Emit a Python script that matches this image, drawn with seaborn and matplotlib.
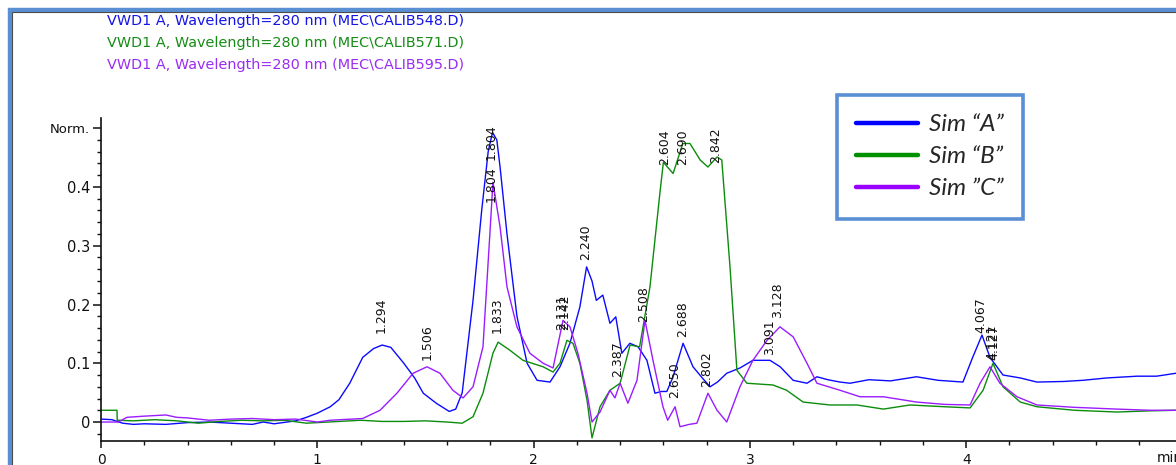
import numpy as np
import pandas as pd
import matplotlib
matplotlib.use("Agg")
import matplotlib.pyplot as plt
import seaborn as sns
from matplotlib.patches import Rectangle
from matplotlib.lines import Line2D
from matplotlib.ticker import MultipleLocator

# ---------------- data ----------------
series_names = ["Sim \u201cA\u201d", "Sim \u201cB\u201d", "Sim \u201dC\u201d"]
header_texts = [
    "VWD1 A, Wavelength=280 nm (MEC\\CALIB548.D)",
    "VWD1 A, Wavelength=280 nm (MEC\\CALIB571.D)",
    "VWD1 A, Wavelength=280 nm (MEC\\CALIB595.D)",
]

time_a = [0, 0.05, 0.1, 0.15, 0.2, 0.3, 0.4, 0.5, 0.6, 0.7,
          0.75, 0.8, 0.9, 0.95, 1.0, 1.06, 1.1, 1.15, 1.21, 1.26,
          1.30, 1.34, 1.40, 1.45, 1.49, 1.55, 1.61, 1.64, 1.67, 1.72,
          1.76, 1.79, 1.81, 1.83, 1.845, 1.877, 1.923, 1.97, 2.016, 2.076,
          2.122, 2.168, 2.214, 2.245, 2.27, 2.29, 2.32, 2.353, 2.38, 2.408,
          2.445, 2.483, 2.524, 2.561, 2.59, 2.616, 2.645, 2.691, 2.737, 2.78,
          2.816, 2.85, 2.893, 2.954, 3.014, 3.093, 3.14, 3.2, 3.264, 3.31,
          3.36, 3.417, 3.463, 3.55, 3.65, 3.77, 3.87, 3.985, 4.03, 4.073,
          4.11, 4.17, 4.25, 4.327, 4.45, 4.54, 4.65, 4.79, 4.88, 4.97]
signal_a = [0.005, 0.004, -0.002, -0.004, -0.003, -0.004, -0.001, 0.0, -0.002, -0.004,
            0.0, -0.003, 0.002, 0.008, 0.015, 0.026, 0.038, 0.066, 0.11, 0.125,
            0.131, 0.127, 0.10, 0.075, 0.049, 0.032, 0.018, 0.022, 0.05, 0.207,
            0.36, 0.46, 0.493, 0.48, 0.434, 0.32, 0.18, 0.10, 0.071, 0.068,
            0.094, 0.134, 0.196, 0.264, 0.24, 0.207, 0.216, 0.168, 0.179, 0.117,
            0.134, 0.128, 0.105, 0.049, 0.052, 0.052, 0.077, 0.134, 0.094, 0.075,
            0.06, 0.068, 0.083, 0.092, 0.105, 0.105, 0.094, 0.071, 0.066, 0.077,
            0.072, 0.068, 0.066, 0.072, 0.07, 0.077, 0.071, 0.068, 0.11, 0.148,
            0.11, 0.08, 0.075, 0.068, 0.069, 0.071, 0.075, 0.078, 0.078, 0.083]

time_b = [0, 0.074, 0.075, 0.15, 0.25, 0.35, 0.45, 0.55, 0.65, 0.75,
          0.85, 0.95, 1.05, 1.2, 1.3, 1.4, 1.5, 1.6, 1.67, 1.72,
          1.766, 1.812, 1.836, 1.891, 1.951, 2.044, 2.09, 2.122, 2.154, 2.182,
          2.214, 2.247, 2.27, 2.307, 2.353, 2.4, 2.446, 2.49, 2.538, 2.584,
          2.6, 2.645, 2.69, 2.723, 2.77, 2.806, 2.848, 2.87, 2.908, 2.94,
          2.986, 3.107, 3.17, 3.246, 3.37, 3.495, 3.617, 3.74, 3.9, 4.018,
          4.078, 4.124, 4.17, 4.25, 4.327, 4.5, 4.697, 4.85, 4.97]
signal_b = [0.02, 0.02, 0.003, 0.002, 0.004, 0.002, -0.002, 0.001, 0.003, 0.002,
            0.003, -0.002, 0.0, 0.003, 0.001, 0.001, 0.002, 0.0, -0.002, 0.009,
            0.049, 0.117, 0.136, 0.122, 0.105, 0.094, 0.085, 0.10, 0.139, 0.134,
            0.10, 0.037, -0.027, 0.026, 0.054, 0.066, 0.131, 0.128, 0.23, 0.39,
            0.442, 0.423, 0.474, 0.474, 0.446, 0.434, 0.451, 0.446, 0.264, 0.088,
            0.066, 0.063, 0.054, 0.034, 0.029, 0.029, 0.022, 0.029, 0.026, 0.024,
            0.054, 0.10, 0.06, 0.034, 0.026, 0.02, 0.017, 0.019, 0.02]

time_c = [0, 0.08, 0.12, 0.2, 0.3, 0.35, 0.4, 0.5, 0.6, 0.7,
          0.8, 0.9, 1.0, 1.059, 1.21, 1.29, 1.368, 1.443, 1.507, 1.567,
          1.627, 1.674, 1.72, 1.766, 1.798, 1.812, 1.845, 1.877, 1.923, 1.983,
          2.044, 2.09, 2.136, 2.168, 2.205, 2.247, 2.27, 2.307, 2.353, 2.376,
          2.4, 2.436, 2.478, 2.515, 2.552, 2.598, 2.62, 2.654, 2.677, 2.72,
          2.755, 2.806, 2.848, 2.893, 2.954, 3.014, 3.079, 3.139, 3.2, 3.264,
          3.31, 3.417, 3.509, 3.617, 3.77, 3.9, 4.018, 4.064, 4.11, 4.156,
          4.235, 4.327, 4.5, 4.697, 4.85, 4.97]
signal_c = [0.0, 0.0, 0.008, 0.01, 0.012, 0.008, 0.007, 0.003, 0.005, 0.006,
            0.004, 0.005, 0.0, 0.003, 0.006, 0.02, 0.049, 0.083, 0.094, 0.083,
            0.054, 0.041, 0.06, 0.128, 0.321, 0.408, 0.332, 0.23, 0.162, 0.117,
            0.10, 0.092, 0.173, 0.162, 0.117, 0.049, 0.0, 0.017, 0.054, 0.041,
            0.066, 0.032, 0.071, 0.173, 0.105, 0.026, 0.003, 0.026, -0.008, -0.004,
            -0.002, 0.049, 0.02, 0.0, 0.06, 0.105, 0.139, 0.162, 0.145, 0.10,
            0.066, 0.054, 0.043, 0.043, 0.034, 0.03, 0.029, 0.066, 0.094, 0.066,
            0.043, 0.029, 0.025, 0.022, 0.02, 0.02]

peak_times = [1.294, 1.506, 1.804, 1.804, 1.833, 2.131, 2.142, 2.240, 2.387, 2.508,
              2.604, 2.690, 2.842, 2.650, 2.688, 2.802, 3.091, 3.128, 4.067, 4.121, 4.127]
peak_texts = ["1.294", "1.506", "1.804", "1.804", "1.833", "2.131", "2.142", "2.240", "2.387", "2.508",
              "2.604", "2.690", "2.842", "2.650", "2.688", "2.802", "3.091", "3.128", "4.067", "4.121", "4.127"]
peak_label_base = [0.151, 0.105, 0.374, 0.446, 0.151, 0.157, 0.157, 0.276, 0.077, 0.170,
                   0.437, 0.437, 0.441, 0.041, 0.145, 0.060, 0.114, 0.177, 0.151, 0.106, 0.106]

x_ticks = [0, 1, 2, 3, 4]
y_ticks = [0, 0.1, 0.2, 0.3, 0.4, 0.5]
y_tick_labels = ["0", "0.1", "0.2", "0.3", "0.4", "Norm."]

# ---------------- build table ----------------
df = pd.concat([
    pd.DataFrame({"time": time_a, "signal": signal_a, "series": series_names[0]}),
    pd.DataFrame({"time": time_b, "signal": signal_b, "series": series_names[1]}),
    pd.DataFrame({"time": time_c, "signal": signal_c, "series": series_names[2]}),
], ignore_index=True)

colors = ["#0a0aff", "#0c8c0c", "#9a1cff"]
palette = dict(zip(series_names, colors))

sns.set_theme(style="white")
plt.rcParams["font.family"] = ["DejaVu Sans"]

W, H = 1176, 465
fig = plt.figure(figsize=(W / 100, H / 100), dpi=100)
ax = fig.add_axes([101 / W, 24 / H, (W - 101) / W, 323 / H])

sns.lineplot(data=df, x="time", y="signal", hue="series", palette=palette,
             estimator=None, sort=False, linewidth=1.0, legend=False, ax=ax)

ax.set_xlim(0, 4.97)
ax.set_ylim(-0.0323, 0.5174)
ax.set_xlabel("")
ax.set_ylabel("")
for s in ["top", "right"]:
    ax.spines[s].set_visible(False)
for s in ["left", "bottom"]:
    ax.spines[s].set_color("#111111")
    ax.spines[s].set_linewidth(1.2)

ax.set_xticks(x_ticks)
ax.set_xticklabels([str(v) for v in x_ticks])
ax.xaxis.set_minor_locator(MultipleLocator(0.2))
ax.set_yticks(y_ticks)
ax.set_yticklabels(y_tick_labels)
ax.yaxis.set_minor_locator(MultipleLocator(0.02))
ax.tick_params(axis="x", which="major", direction="out", length=5, width=1.1,
               color="#111111", labelsize=10, pad=3.5, bottom=True, labelcolor="#111111")
ax.tick_params(axis="x", which="minor", direction="out", length=2.8, width=1.0,
               color="#111111", bottom=True)
ax.tick_params(axis="y", which="major", direction="out", length=5.8, width=1.1,
               color="#111111", labelsize=10.5, pad=2, left=True, labelcolor="#111111")
ax.tick_params(axis="y", which="minor", direction="out", length=2.8, width=1.0,
               color="#111111", left=True)
ax.get_yticklabels()[-1].set_fontsize(9.5)

# peak labels
for t, txt, yb in zip(peak_times, peak_texts, peak_label_base):
    ax.text(t, yb, txt, rotation=90, ha="center", va="bottom", fontsize=9, color="#111111")

# x-axis unit (cut at the edge as in the original)
fig.text(1157 / W, 1 - 451 / H, "min", ha="left", va="top", fontsize=10, color="#111111")

# header lines
for i, (txt, c) in enumerate(zip(header_texts, ["#1414e6", "#168c16", "#9a2cf0"])):
    fig.text(107 / W, 1 - (21 + 22 * i) / H, txt, ha="left", va="center",
             fontsize=10.4, color=c)

# legend
handles = [Line2D([], [], color=c, lw=3.2) for c in ["#0000ff", "#009000", "#9900ff"]]
leg = ax.legend(handles, series_names, loc="upper left",
                bbox_to_anchor=(837 / W, 1 - 95 / H), bbox_transform=fig.transFigure,
                prop={"family": "Lato", "style": "italic", "size": 17.5},
                frameon=True, fancybox=False, framealpha=1, edgecolor="#5b8fd4",
                borderpad=0.8, handlelength=2.55, handletextpad=0.42,
                labelspacing=0.45, borderaxespad=0)
leg.get_frame().set_linewidth(2.6)

# outer frame of the screenshot
fig.add_artist(Rectangle((9.5 / W, -0.5), 2, 1.5 - 10 / H, transform=fig.transFigure,
                         fill=False, edgecolor="#5b8fd4", lw=3.2))
fig.add_artist(Rectangle((11.5 / W, -0.5), 2, 1.5 - 12 / H, transform=fig.transFigure,
                         fill=False, edgecolor="#4a4a4a", lw=0.8))

fig.savefig("out.png", dpi=100)
